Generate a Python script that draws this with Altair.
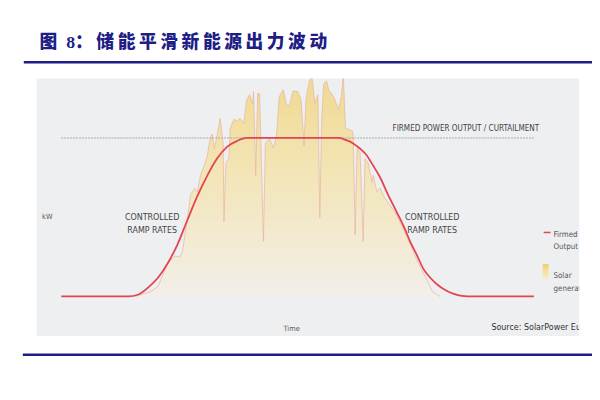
import altair as alt
import pandas as pd

# ---------------- data ----------------
title_text = "图\u20028：\u2009" + "\u2009".join("储能平滑新能源出力波动")

firm_hour = [4.0, 6.43, 6.79, 7.14, 7.5, 7.86, 8.21, 8.57, 8.93, 9.29, 9.64, 10.0, 10.36, 10.71,
             14.04, 14.29, 14.54, 14.82, 15.04, 15.29, 15.54, 15.82, 16.14, 16.43, 16.64, 16.89,
             17.11, 17.36, 17.61, 17.93, 18.21, 18.5, 18.71, 21.11]
firm_kw = [0, 0, 1.2, 5.6, 11.8, 21.1, 32.9, 48.4, 63.4, 76.4, 87.0, 94.4, 98.1, 100,
           100, 98.8, 96.9, 93.2, 89.4, 82.6, 75.2, 64.6, 53.4, 42.9, 34.2, 25.5,
           17.4, 11.8, 7.5, 3.7, 1.6, 0.3, 0, 0]

solar_hour = [6.68, 7.25, 7.5, 7.86, 8.11, 8.29, 8.39, 8.57, 8.68, 8.82, 8.93, 9.04, 9.18, 9.29,
              9.36, 9.46, 9.54, 9.64, 9.75, 9.86, 9.89, 9.96, 10.07, 10.11, 10.25, 10.36, 10.46,
              10.61, 10.71, 10.82, 10.93, 10.96, 11.04, 11.11, 11.18, 11.25, 11.32, 11.39, 11.54,
              11.68, 11.79, 11.89, 12.04, 12.14, 12.25, 12.39, 12.57, 12.68, 12.79, 12.86, 12.96,
              13.07, 13.18, 13.29, 13.36, 13.43, 13.5, 13.61, 13.68, 13.86, 14.04, 14.14, 14.21,
              14.29, 14.39, 14.54, 14.57, 14.64, 14.71, 14.82, 14.93, 15.0, 15.11, 15.25, 15.29,
              15.43, 15.54, 15.71, 16.07, 16.43, 16.89, 17.25, 17.43, 17.71]
solar_kw = [0, 3.1, 6.2, 21.1, 25.5, 24.8, 28.6, 49.7, 64.0, 68.3, 65.8, 76.4, 82.6, 88.8,
            96.9, 102.5, 93.2, 101.2, 112.4, 96.9, 47.2, 84.5, 87.0, 105.6, 111.8, 110.6, 112.4,
            109.3, 124.2, 127.3, 121.7, 129.2, 76.4, 128.0, 128.0, 80.7, 34.8, 96.9, 99.4,
            93.8, 101.2, 126.1, 130.4, 121.7, 119.9, 129.8, 129.2, 124.2, 95.0, 124.2, 134.2,
            140.0, 121.7, 127.3, 49.7, 111.8, 134.2, 136.0, 130.4, 126.1, 118.0, 126.1, 140.0,
            106.2, 105.6, 104.3, 101.2, 39.1, 93.2, 90.7, 34.8, 87.0, 83.9, 72.0, 76.4,
            65.8, 68.3, 62.1, 53.4, 41.0, 22.4, 9.9, 3.1, 0]

level_start = [4.0]
level_end = [21.11]
level_kw = [100]

firm_label = ["FIRMED POWER OUTPUT / CURTAILMENT"]
firm_label_hour = [21.3]
firm_label_kw = [104.3]

ramp_labels = ["CONTROLLED\nRAMP RATES", "CONTROLLED\nRAMP RATES"]
ramp_label_hour = [7.29, 17.43]
ramp_label_kw = [50.3, 50.3]

legend_labels = ["Firmed\nOutput", "Solar\ngeneration"]
source_text = "Source: SolarPower Europe"

# ---------------- styling ----------------
NAVY = "#1e1e86"
RED = "#e4444f"
NARROW = "Liberation Sans Narrow, Arial Narrow, DejaVu Sans Condensed, sans-serif"

xs = alt.Scale(domain=[3.107, 22.75], nice=False, zero=False)
ys = alt.Scale(domain=[-25, 137.5], nice=False, zero=False)

grad = alt.Gradient(
    gradient="linear",
    stops=[alt.GradientStop(color="#f0cf66", offset=0),
           alt.GradientStop(color="#f5e19e", offset=0.45),
           alt.GradientStop(color="#f4eee7", offset=1)],
    x1=0, x2=0, y1=0, y2=1,
)

solar_df = pd.DataFrame({"hour": solar_hour, "kw": solar_kw})
firm_df = pd.DataFrame({"hour": firm_hour, "kw": firm_kw})
level_df = pd.DataFrame({"h0": level_start, "h1": level_end, "kw": level_kw})
firm_label_df = pd.DataFrame({"hour": firm_label_hour, "kw": firm_label_kw, "t": firm_label})
ramp_df = pd.DataFrame({"hour": ramp_label_hour, "kw": ramp_label_kw, "t": ramp_labels})
one = pd.DataFrame({"k": [0]})

area = alt.Chart(solar_df).mark_area(
    clip=True, interpolate="linear", color=grad,
    line=alt.OverlayMarkDef(color="#e9b9a2", strokeWidth=0.8),
).encode(
    x=alt.X("hour:Q", scale=xs, axis=alt.Axis(
        title="Time", labels=False, ticks=False, domain=False, grid=False,
        titleFontSize=7.5, titleColor="#555555", titleFontWeight="normal", titleFont=NARROW,
        titleX=258, titleY=-8, titleBaseline="middle", titleAlign="center")),
    y=alt.Y("kw:Q", scale=ys, axis=alt.Axis(
        title="kW", labels=False, ticks=False, domain=False, grid=False,
        titleFontSize=7.5, titleColor="#555555", titleFontWeight="normal", titleFont=NARROW,
        titleAngle=0, titleX=5, titleY=140, titleAlign="left", titleBaseline="middle")),
    y2=alt.datum(0),
)

level = alt.Chart(level_df).mark_rule(color="#a8a8a8", strokeWidth=1.2, strokeDash=[2, 1]).encode(
    x=alt.X("h0:Q", scale=xs), x2="h1:Q", y=alt.Y("kw:Q", scale=ys)
)

firm = alt.Chart(firm_df).mark_line(color=RED, strokeWidth=1.8, interpolate="monotone").encode(
    x=alt.X("hour:Q", scale=xs), y=alt.Y("kw:Q", scale=ys)
)

firm_lbl = alt.Chart(firm_label_df).mark_text(
    align="right", baseline="alphabetic", font=NARROW, fontSize=8.2, color="#444444"
).encode(x=alt.X("hour:Q", scale=xs), y=alt.Y("kw:Q", scale=ys), text="t:N")

ramp_lbl = alt.Chart(ramp_df).mark_text(
    align="center", baseline="middle", font=NARROW, fontSize=9, color="#444444",
    lineBreak="\n", lineHeight=13.5
).encode(x=alt.X("hour:Q", scale=xs), y=alt.Y("kw:Q", scale=ys), text="t:N")

# legend (clipped at panel edge as in the original)
leg_line = alt.Chart(one).mark_rule(color=RED, strokeWidth=1.5).encode(
    x=alt.value(514), x2=alt.value(521), y=alt.value(156))
leg_swatch = alt.Chart(one).mark_rect(color=grad).encode(
    x=alt.value(513), x2=alt.value(519), y=alt.value(188), y2=alt.value(205))
leg_t1 = alt.Chart(one).mark_text(
    align="left", baseline="middle", font=NARROW, fontSize=8, color="#555555",
    lineBreak="\n", lineHeight=12, clip=True
).encode(x=alt.value(524), y=alt.value(159), text=alt.value(legend_labels[0]))
leg_t2 = alt.Chart(one).mark_text(
    align="left", baseline="middle", font=NARROW, fontSize=8, color="#555555",
    lineBreak="\n", lineHeight=13, clip=True
).encode(x=alt.value(524), y=alt.value(200.5), text=alt.value(legend_labels[1]))

source = alt.Chart(one).mark_text(
    align="left", baseline="alphabetic", font=NARROW, fontSize=9, color="#333333", clip=True
).encode(x=alt.value(461), y=alt.value(255), text=alt.value(source_text))

# page header / rules
title = alt.Chart(one).mark_text(
    align="left", baseline="alphabetic", font="Liberation Serif, Noto Sans CJK SC",
    fontSize=18, fontWeight=900, color=NAVY
).encode(x=alt.value(3), y=alt.value(-31), text=alt.value(title_text))
top_rule = alt.Chart(one).mark_rule(color=NAVY, strokeWidth=2.5).encode(
    x=alt.value(-13), x2=alt.value(570), y=alt.value(-16.5))
bottom_rule = alt.Chart(one).mark_rule(color=NAVY, strokeWidth=2.5).encode(
    x=alt.value(-14), x2=alt.value(570), y=alt.value(280))

chart = alt.layer(
    area, level, firm, firm_lbl, ramp_lbl,
    leg_line, leg_swatch, leg_t1, leg_t2, source,
    title, top_rule, bottom_rule,
).properties(
    width=550, height=261,
    autosize=alt.AutoSizeParams(type="none"),
    padding={"left": 29, "top": 69, "right": 13, "bottom": 40},
    background="white",
).configure_view(fill="#eeeff1", stroke=None)

chart.save("out.html", embed_options={"renderer": "svg", "actions": False})
